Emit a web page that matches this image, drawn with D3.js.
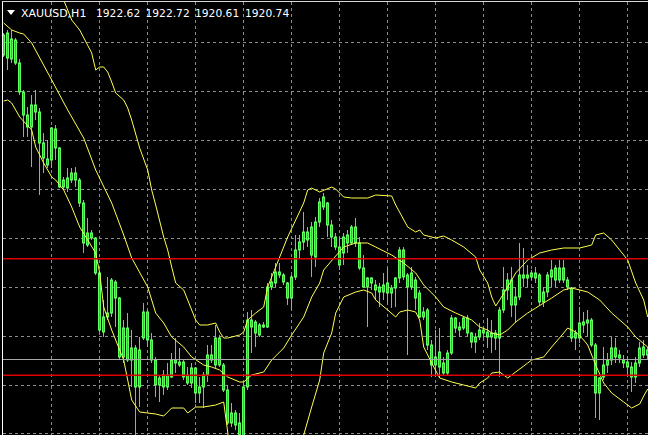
<!DOCTYPE html>
<html><head><meta charset="utf-8">
<script src="https://cdn.jsdelivr.net/npm/d3@7"></script>
<style>html,body{margin:0;padding:0;background:#000;overflow:hidden}</style>
</head><body>
<svg id="c" width="648" height="435"></svg>
<script>
// ---- data ----
const symbol = "XAUUSD,H1";
const quote = ["1922.62", "1922.72", "1920.61", "1920.74"];

const open = [
1953.2,1950.9,1952.8,1952.7,1950.4,1947.5,1945.2,1944.0,1946.2,1945.5,
1942.4,1940.8,1940.7,1943.8,1941.9,1938.0,1937.9,1938.7,1939.4,1938.7,
1936.4,1932.2,1933.4,1932.9,1929.4,1923.5,1925.0,1925.4,1928.5,1926.9,
1921.0,1923.9,1920.7,1921.9,1918.0,1922.9,1925.5,1922.7,1920.7,1918.2,
1919.2,1918.0,1919.0,1920.7,1920.5,1920.5,1919.2,1918.4,1919.9,1917.4,
1918.0,1919.2,1921.2,1920.2,1922.9,1920.2,1917.7,1914.4,1915.4,1914.4,
1912.7,1918.0,1924.7,1924.5,1923.2,1924.2,1924.0,1928.0,1928.4,1929.5,
1929.2,1928.4,1926.9,1929.0,1931.7,1932.5,1933.5,1934.0,1931.0,1934.5,
1936.0,1936.4,1934.2,1933.0,1932.0,1931.4,1932.4,1932.4,1934.0,1932.4,
1929.9,1928.0,1928.9,1928.2,1928.0,1927.5,1927.4,1927.9,1927.9,1928.9,
1931.7,1929.2,1928.0,1928.7,1927.4,1925.5,1925.7,1922.2,1920.2,1921.5,
1920.4,1919.4,1921.4,1924.9,1924.0,1923.9,1924.9,1923.4,1923.0,1923.0,
1923.7,1923.5,1923.0,1923.4,1922.9,1925.7,1927.7,1928.7,1926.2,1927.0,
1929.2,1928.9,1929.0,1929.4,1929.2,1926.5,1927.5,1929.0,1929.9,1928.7,
1929.9,1928.7,1927.9,1922.9,1922.9,1924.2,1924.4,1924.7,1922.2,1917.4,
1919.0,1920.2,1920.7,1921.9,1921.2,1920.7,1920.5,1920.0,1919.0,1920.4,
1921.2,1921.7];
const high = [
1953.4,1953.7,1953.7,1952.9,1950.8,1947.7,1946.0,1947.2,1947.7,1945.9,
1943.4,1942.7,1944.0,1944.2,1942.0,1939.0,1939.9,1939.9,1940.0,1938.9,
1936.7,1934.9,1933.7,1933.0,1929.5,1926.7,1929.0,1928.9,1928.7,1927.0,
1924.7,1925.4,1923.7,1922.2,1923.0,1926.4,1925.7,1923.4,1921.0,1919.2,
1919.7,1920.4,1921.4,1922.9,1921.9,1920.7,1920.0,1920.4,1920.0,1919.0,
1919.5,1922.2,1922.2,1924.2,1923.2,1920.4,1918.2,1916.4,1915.7,1915.4,
1918.4,1925.5,1925.7,1924.7,1924.4,1924.5,1928.4,1929.4,1930.4,1930.4,
1929.4,1928.5,1929.2,1933.2,1933.2,1935.5,1934.0,1934.5,1935.0,1936.9,
1937.4,1936.5,1934.7,1933.4,1933.0,1933.4,1933.7,1934.2,1934.9,1933.0,
1931.2,1929.0,1929.0,1928.7,1928.4,1929.4,1929.9,1928.2,1929.0,1932.0,
1932.0,1929.4,1930.0,1929.0,1927.7,1926.0,1925.9,1922.7,1923.7,1923.9,
1921.0,1921.7,1925.2,1925.0,1924.5,1925.0,1925.2,1923.5,1923.4,1924.4,
1924.0,1924.9,1924.7,1923.7,1926.0,1930.0,1929.4,1930.0,1928.0,1932.4,
1931.9,1930.2,1929.7,1930.0,1929.4,1928.0,1929.5,1930.7,1930.2,1930.7,
1930.7,1929.0,1928.0,1923.7,1926.0,1925.5,1925.7,1924.9,1922.4,1919.0,
1922.0,1921.4,1923.0,1922.9,1921.7,1921.2,1921.0,1920.5,1921.0,1922.5,
1922.7,1922.0];
const low = [
1951.0,1949.7,1950.4,1950.2,1947.2,1943.0,1943.0,1940.0,1944.7,1937.2,
1939.4,1939.9,1939.9,1940.7,1937.9,1937.7,1937.5,1938.4,1938.0,1936.0,
1931.4,1932.0,1932.7,1929.2,1923.5,1923.0,1924.7,1925.0,1924.0,1920.7,
1920.4,1920.5,1918.0,1912.7,1916.0,1922.7,1922.0,1920.4,1917.0,1916.5,
1917.2,1917.7,1918.9,1919.4,1920.0,1918.7,1918.2,1917.9,1916.4,1916.4,
1915.9,1918.5,1920.4,1919.9,1920.0,1917.5,1914.2,1914.0,1913.7,1912.7,
1912.2,1917.7,1921.4,1922.0,1923.0,1923.9,1923.9,1927.7,1928.0,1928.9,
1928.2,1926.2,1925.7,1928.7,1930.9,1931.7,1932.0,1929.0,1930.0,1934.0,
1935.7,1933.0,1932.0,1931.7,1929.7,1930.2,1931.4,1932.2,1932.0,1929.7,
1927.9,1924.0,1927.7,1926.7,1926.0,1926.7,1926.4,1925.9,1926.0,1928.4,
1928.7,1921.2,1927.7,1925.7,1924.9,1924.7,1921.7,1919.0,1919.0,1918.9,
1919.2,1919.2,1921.2,1923.4,1923.0,1923.7,1923.0,1921.9,1921.4,1922.7,
1922.9,1921.9,1921.4,1921.7,1919.0,1925.4,1926.7,1925.0,1924.4,1926.7,
1928.0,1928.0,1928.7,1928.4,1926.2,1926.0,1927.0,1928.0,1928.0,1928.4,
1928.4,1927.7,1922.5,1921.7,1922.4,1923.4,1923.0,1922.0,1914.9,1914.7,
1918.7,1919.4,1920.2,1920.4,1920.4,1919.9,1919.0,1917.5,1918.4,1920.0,
1920.9,1920.7];
const close = [
1951.2,1953.4,1950.8,1950.4,1947.5,1945.2,1944.0,1946.2,1945.5,1942.4,
1940.9,1940.2,1943.9,1941.9,1938.0,1938.7,1938.9,1939.4,1938.7,1936.4,
1932.4,1933.4,1932.9,1929.4,1923.7,1925.0,1925.4,1928.7,1926.9,1921.0,
1923.9,1920.7,1921.9,1918.0,1921.7,1925.5,1922.7,1920.7,1918.2,1918.9,
1918.0,1919.2,1920.7,1920.4,1920.2,1919.0,1918.4,1919.9,1917.4,1918.0,
1919.2,1921.2,1920.7,1922.9,1920.2,1917.7,1914.4,1915.4,1914.2,1913.2,
1918.0,1924.7,1924.0,1923.4,1924.2,1924.0,1928.0,1928.5,1929.5,1929.2,
1928.5,1926.9,1929.0,1931.7,1932.5,1933.5,1932.7,1931.2,1934.5,1936.5,
1937.0,1934.2,1933.0,1932.0,1930.2,1933.0,1933.2,1934.0,1932.4,1929.9,
1928.0,1928.9,1928.4,1927.7,1927.5,1928.2,1928.4,1927.4,1928.9,1931.7,
1929.0,1928.0,1929.4,1926.9,1925.0,1925.0,1922.2,1920.2,1921.0,1920.0,
1919.4,1921.4,1924.9,1923.9,1923.7,1924.9,1923.4,1922.5,1922.5,1923.7,
1923.4,1923.0,1923.4,1922.9,1925.7,1927.7,1928.7,1926.2,1927.0,1929.2,
1928.9,1929.2,1929.4,1928.9,1926.5,1927.5,1929.2,1929.7,1928.7,1929.9,
1928.7,1928.0,1922.9,1923.4,1924.4,1924.5,1924.7,1922.2,1917.4,1918.9,
1920.2,1920.7,1921.9,1921.0,1920.9,1920.4,1920.0,1919.0,1920.4,1921.9,
1922.0,1921.2];

// Bollinger band readings: [bar index, price]
const upperBand = [[12,1958.6],[15,1956.7],[17,1954.7],[19,1953.7],[22,1951.4],[23,1949.7],[24,1950.0],[25,1950.0],[26,1949.5],[27,1948.5],[28,1947.4],[30,1946.7],[31,1945.9],[32,1944.7],[34,1941.9],[36,1939.7],[37,1937.7],[38,1936.2],[40,1933.0],[41,1931.7],[42,1930.0],[43,1928.4],[45,1927.7],[46,1926.7],[48,1924.7],[49,1924.2],[51,1924.2],[53,1924.4],[54,1923.5],[55,1922.9],[56,1922.9],[59,1923.2],[60,1923.5],[61,1924.7],[63,1925.4],[65,1926.0],[66,1928.0],[68,1930.0],[70,1932.0],[71,1933.0],[73,1934.7],[75,1936.4],[76,1937.7],[77,1937.9],[79,1937.5],[82,1938.0],[83,1937.8],[85,1937.0],[87,1936.9],[91,1936.9],[93,1937.2],[97,1937.1],[98,1936.2],[101,1934.0],[103,1933.5],[104,1933.7],[105,1933.2],[108,1932.9],[110,1933.1],[112,1932.7],[115,1932.0],[118,1931.0],[119,1929.7],[121,1928.4],[122,1927.0],[123,1926.1],[124,1926.7],[126,1928.0],[128,1929.4],[131,1930.7],[134,1931.4],[137,1931.7],[140,1931.9],[144,1931.9],[147,1932.2],[148,1933.2],[150,1933.4],[152,1932.7],[154,1931.7],[156,1930.7],[158,1928.4],[160,1926.7],[161,1925.0]];
const middleBand = [[0,1954.4],[2,1953.7],[4,1953.4],[5,1953.3],[7,1952.4],[12,1948.7],[16,1945.7],[20,1942.9],[23,1939.7],[27,1936.4],[30,1933.2],[32,1930.9],[36,1928.0],[38,1925.4],[40,1924.4],[42,1923.0],[45,1922.0],[47,1921.0],[50,1920.2],[52,1920.0],[54,1919.7],[56,1919.0],[59,1918.5],[60,1918.5],[62,1919.2],[65,1919.5],[67,1920.7],[70,1921.9],[72,1923.2],[75,1925.0],[77,1927.0],[79,1928.4],[80,1929.7],[83,1931.1],[85,1932.0],[88,1932.4],[91,1932.4],[93,1932.0],[97,1931.2],[100,1930.4],[103,1929.4],[105,1928.2],[108,1927.0],[110,1926.0],[113,1925.4],[117,1924.7],[119,1924.0],[121,1923.7],[122,1923.4],[124,1923.2],[126,1923.7],[128,1924.5],[131,1925.4],[133,1925.9],[135,1926.4],[137,1926.9],[140,1927.7],[142,1927.9],[146,1927.5],[149,1926.7],[152,1925.4],[156,1924.0],[158,1923.0],[161,1922.0]];
const lowerBand = [[0,1946.6],[1,1946.7],[2,1946.4],[4,1945.0],[7,1943.7],[8,1942.0],[10,1940.4],[12,1939.0],[13,1938.7],[15,1937.7],[17,1936.0],[19,1934.0],[21,1932.7],[23,1931.4],[24,1929.4],[25,1926.0],[27,1923.7],[28,1922.7],[30,1920.7],[31,1918.7],[32,1916.7],[34,1915.5],[36,1915.4],[38,1915.3],[40,1915.1],[42,1915.9],[45,1915.9],[46,1915.4],[48,1916.0],[50,1916.0],[53,1916.2],[55,1916.5],[56,1913.5],[57,1909.7],[73,1909.7],[75,1913.2],[77,1916.0],[79,1918.7],[80,1921.4],[82,1923.4],[83,1925.4],[85,1927.0],[88,1927.5],[90,1927.7],[92,1927.4],[93,1926.7],[96,1925.7],[98,1925.0],[99,1925.5],[101,1925.7],[103,1925.5],[104,1924.7],[105,1922.0],[107,1920.4],[109,1918.9],[112,1918.5],[115,1918.2],[118,1917.9],[119,1918.4],[121,1918.9],[122,1919.4],[124,1919.5],[126,1918.9],[128,1919.5],[131,1920.4],[132,1920.7],[135,1921.0],[137,1922.0],[140,1923.4],[141,1923.9],[143,1923.5],[145,1922.7],[146,1922.2],[148,1920.2],[150,1918.4],[152,1917.4],[155,1916.5],[157,1915.9],[159,1916.3],[160,1917.1],[161,1917.8]];

const gridPrices = [1952.43, 1947.54, 1942.65, 1937.76, 1932.87, 1927.98, 1923.09, 1918.20, 1913.31];
const gridBars = [12, 24, 36, 48, 60, 72, 84, 96, 108, 120, 132, 144, 156];
const redLevels = [1930.83, 1919.17];
const bidLevel = 1920.74;

// ---- drawing ----
const W = 648, H = 435;
const svg = d3.select("#c");
const x = d3.scaleLinear().domain([0, 161]).range([3.7, 647.7]);
const y = d3.scaleLinear().domain([1913.2, 1956.7]).range([H, 0]);
const crisp = v => Math.floor(v) + 0.5;

svg.append("rect").attr("width", W).attr("height", H).attr("fill", "#000");
svg.append("defs").append("clipPath").attr("id", "plot")
  .append("rect").attr("x", 3).attr("y", 2).attr("width", W - 3).attr("height", H - 2);
const g = svg.append("g").attr("clip-path", "url(#plot)");

// grid
g.append("g").selectAll("line").data(gridPrices).join("line")
  .attr("x1", 3).attr("x2", W).attr("y1", d => crisp(y(d))).attr("y2", d => crisp(y(d)))
  .attr("stroke", "#8c8c8c").attr("stroke-width", 1).attr("stroke-dasharray", "3,3");
g.append("g").selectAll("line").data(gridBars).join("line")
  .attr("y1", 2).attr("y2", H).attr("x1", d => crisp(x(d))).attr("x2", d => crisp(x(d)))
  .attr("stroke", "#8c8c8c").attr("stroke-width", 1).attr("stroke-dasharray", "3,3");

// candles
const idx = d3.range(open.length);
const cg = g.append("g");
cg.selectAll("line").data(idx).join("line")
  .attr("x1", i => crisp(x(i))).attr("x2", i => crisp(x(i)))
  .attr("y1", i => y(Math.max(high[i], open[i], close[i])))
  .attr("y2", i => y(Math.min(low[i], open[i], close[i])))
  .attr("stroke", "#3cf03c").attr("stroke-width", 1);
cg.selectAll("rect").data(idx).join("rect")
  .attr("x", i => Math.floor(x(i)) - 0.5)
  .attr("width", 2)
  .attr("y", i => y(Math.max(open[i], close[i])))
  .attr("height", i => Math.max(0.5, y(Math.min(open[i], close[i])) - y(Math.max(open[i], close[i]))))
  .attr("fill", "#2ccc2c").attr("stroke", "#5cff5c").attr("stroke-width", 1);

// Bollinger bands
const line = d3.line().x(d => x(d[0])).y(d => y(d[1]));
[upperBand, middleBand, lowerBand].forEach(b => {
  g.append("path").attr("d", line(b)).attr("fill", "none")
    .attr("stroke", "#ffff50").attr("stroke-width", 1);
});

// horizontal levels
g.append("g").selectAll("line").data(redLevels).join("line")
  .attr("x1", 3).attr("x2", W).attr("y1", d => y(d)).attr("y2", d => y(d))
  .attr("stroke", "#e00000").attr("stroke-width", 1.6);
g.append("line").attr("x1", 3).attr("x2", W)
  .attr("y1", crisp(y(bidLevel))).attr("y2", crisp(y(bidLevel)))
  .attr("stroke", "#a8a8a8").attr("stroke-width", 1);

// frame
svg.append("line").attr("x1", 2.5).attr("x2", 2.5).attr("y1", 1).attr("y2", H).attr("stroke", "#ffffff");
svg.append("line").attr("x1", 2).attr("x2", W).attr("y1", 1.5).attr("y2", 1.5).attr("stroke", "#d8d8d8");

// header
svg.append("path").attr("d", "M7,10L15,10L11,15Z").attr("fill", "#fff");
const font = "'DejaVu Sans', Verdana, sans-serif";
svg.append("text").attr("x", 21).attr("y", 17).text(symbol)
  .attr("fill", "#fff").attr("font-family", font).attr("font-size", 11);
const qx = [96, 145.5, 195, 245];
svg.append("g").selectAll("text").data(quote).join("text")
  .attr("x", (d, i) => qx[i]).attr("y", 17).text(d => d)
  .attr("fill", "#fff").attr("font-family", font).attr("font-size", 10.7);
</script>
</body></html>
